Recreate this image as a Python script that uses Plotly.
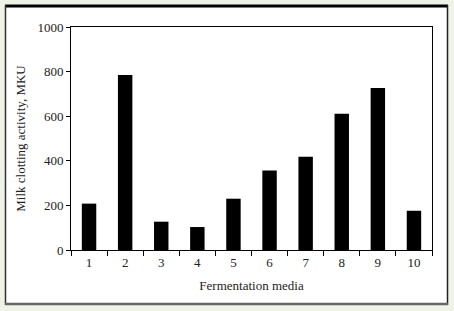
import plotly.graph_objects as go

categories = ["1", "2", "3", "4", "5", "6", "7", "8", "9", "10"]
activity = [208, 785, 127, 103, 230, 356, 418, 611, 726, 176]
y_ticks = [0, 200, 400, 600, 800, 1000]

W, H = 454, 311
L, R, T, B = 71, 22, 27, 61
pw, ph = W - L - R, H - T - B

def px(x):
    return (x - L) / pw

def py(y):
    return (H - B - y) / ph

font = dict(family="Liberation Serif, Times New Roman, serif", size=13, color="#222222")

fig = go.Figure()
fig.add_trace(go.Bar(x=categories, y=activity, marker=dict(color="black", line=dict(width=0)), width=0.4))

shapes = [
    dict(type="rect", xref="paper", yref="paper", x0=px(5), x1=px(448), y0=py(305), y1=py(5),
         fillcolor="white", line=dict(width=0), layer="below"),
    dict(type="line", xref="paper", yref="paper", x0=px(5), x1=px(448), y0=py(6), y1=py(6),
         line=dict(color="black", width=3)),
    dict(type="line", xref="paper", yref="paper", x0=px(5.5), x1=px(5.5), y0=py(5), y1=py(305),
         line=dict(color="#333333", width=1.5)),
    dict(type="line", xref="paper", yref="paper", x0=px(447.5), x1=px(447.5), y0=py(5), y1=py(305),
         line=dict(color="#222222", width=1.5)),
    dict(type="line", xref="paper", yref="paper", x0=px(5), x1=px(448), y0=py(304), y1=py(304),
         line=dict(color="#666666", width=2.5)),
]

fig.update_layout(
    width=W, height=H,
    margin=dict(l=L, r=R, t=T, b=B),
    paper_bgcolor="#eef2e7",
    plot_bgcolor="white",
    font=font,
    showlegend=False,
    shapes=shapes,
    xaxis=dict(
        type="category", showline=True, linecolor="black", linewidth=1, mirror=True,
        ticks="outside", tickson="boundaries", ticklen=5, tickcolor="black",
        showgrid=False, tickfont=font,
        title=dict(text="Fermentation media", font=font, standoff=12),
    ),
    yaxis=dict(
        range=[0, 1000], tickvals=y_ticks, showline=True, linecolor="black", linewidth=1, mirror=True,
        ticks="outside", ticklen=4, tickcolor="black", showgrid=False, zeroline=False,
        tickfont=font,
        title=dict(text="Milk clotting activity, MKU", font=font, standoff=8),
    ),
)

fig.write_html("out.html")
